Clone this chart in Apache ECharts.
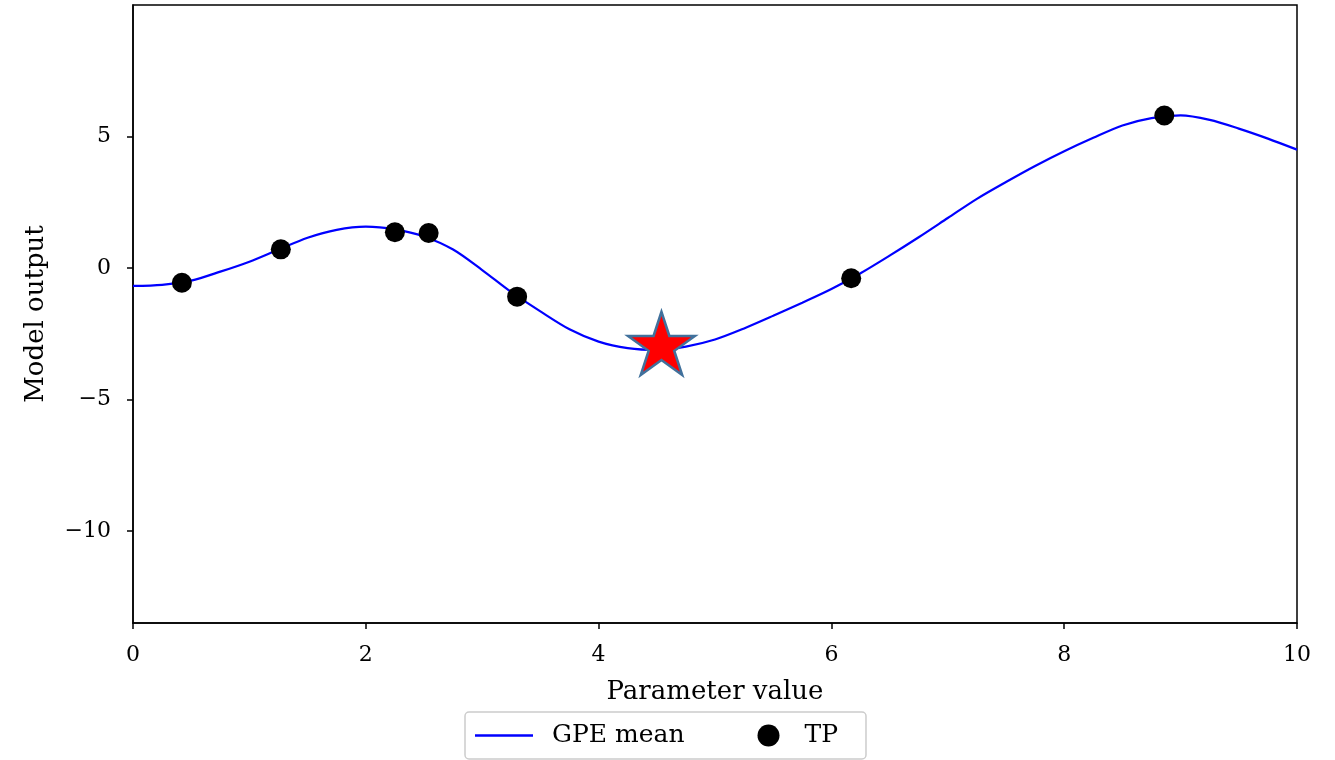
<!DOCTYPE html>
<html>
<head>
<meta charset="utf-8">
<script src="https://cdn.jsdelivr.net/npm/echarts@6/dist/echarts.min.js"></script>
<style>
html, body { margin: 0; padding: 0; background: #fff; }
#chart { width: 1335px; height: 760px; }
</style>
</head>
<body>
<div id="chart"></div>
<script>
// GPE mean curve
var meanX = [0, 0.25, 0.5, 0.75, 1, 1.25, 1.5, 1.75, 2, 2.25, 2.5, 2.75, 3, 3.25, 3.5, 3.75, 4, 4.25, 4.5, 4.75,
	5, 5.25, 5.5, 5.75, 6, 6.25, 6.5, 6.75, 7, 7.25, 7.5, 7.75, 8, 8.25, 8.5, 8.75, 9, 9.25, 9.5, 9.75, 10];
var meanY = [-0.68, -0.64, -0.48, -0.14, 0.24, 0.7, 1.15, 1.45, 1.57, 1.47, 1.2, 0.7, -0.08, -0.92, -1.65, -2.33, -2.8, -3.05, -3.12, -2.99,
	-2.72, -2.3, -1.82, -1.32, -0.8, -0.2, 0.47, 1.17, 1.9, 2.63, 3.27, 3.88, 4.44, 4.95, 5.42, 5.7, 5.8, 5.63, 5.3, 4.92, 4.5];
// training points
var tpX = [0.42, 1.27, 2.25, 2.54, 3.3, 6.17, 8.86];
var tpY = [-0.56, 0.71, 1.36, 1.33, -1.09, -0.39, 5.8];
// highlighted optimum
var starX = [4.54];
var starY = [-2.87];
var xTicks = [0, 2, 4, 6, 8, 10];
var yTicks = [-10, -5, 0, 5];

var font = 'DejaVu Serif';
var starPath = 'path://M50,0 L61.2,34.5 L97.6,34.5 L68.2,55.9 L79.4,90.5 L50,69.1 L20.6,90.5 L31.8,55.9 L2.4,34.5 L38.8,34.5 Z';

function zip(a, b) {
	var out = [];
	for (var i = 0; i < a.length; i++) out.push([a[i], b[i]]);
	return out;
}

$chart = echarts.init(document.getElementById('chart'));
$chart.setOption({
	animation: false,
	textStyle: { fontFamily: font, color: '#000' },
	grid: {
		left: 133, right: 38, top: 5, bottom: 137,
		show: true, borderColor: '#000', borderWidth: 1.5
	},
	legend: {
		left: 465, top: 712,
		padding: [11, 28, 11, 10],
		itemWidth: 58, itemHeight: 22, itemGap: 73,
		borderColor: '#ccc', borderWidth: 1.5, borderRadius: 4,
		textStyle: { fontFamily: font, fontSize: 25, color: '#000' },
		data: [
			{ name: 'GPE mean', icon: 'path://M0,0H60V2.4H0Z', textStyle: { padding: [0, 0, 0, 14] } },
			{ name: 'TP', icon: 'circle', textStyle: { padding: [0, 0, 0, 2] } }
		]
	},
	xAxis: {
		type: 'value', min: 0, max: 10, interval: 2,
		name: 'Parameter value', nameLocation: 'middle', nameGap: 56,
		nameTextStyle: { fontFamily: font, fontSize: 26, color: '#000' },
		axisLine: { onZero: false, lineStyle: { color: '#000', width: 1.5 } },
		axisTick: { length: 6, lineStyle: { color: '#000', width: 1.5 }, customValues: xTicks },
		axisLabel: { fontFamily: font, fontSize: 22, color: '#000', margin: 21, customValues: xTicks },
		splitLine: { show: false }
	},
	yAxis: {
		type: 'value', min: -13.5, max: 10,
		name: 'Model output', nameLocation: 'middle', nameGap: 84,
		nameTextStyle: { fontFamily: font, fontSize: 26, color: '#000' },
		axisLine: { show: true, onZero: false, lineStyle: { color: '#000', width: 1.5 } },
		axisTick: { show: true, length: 6, lineStyle: { color: '#000', width: 1.5 }, customValues: yTicks },
		axisLabel: {
			fontFamily: font, fontSize: 22, color: '#000', margin: 22, customValues: yTicks,
			formatter: function (v) { return v < 0 ? '\u2212' + Math.abs(v) : '' + v; }
		},
		splitLine: { show: false }
	},
	series: [{
		name: 'GPE mean',
		type: 'line',
		data: zip(meanX, meanY),
		smooth: 0.3,
		symbol: 'none',
		lineStyle: { color: '#0000ff', width: 2.2 },
		itemStyle: { color: '#0000ff' },
		z: 2
	}, {
		name: 'TP',
		type: 'scatter',
		data: zip(tpX, tpY),
		symbolSize: 20,
		itemStyle: { color: '#000', opacity: 1 },
		z: 3
	}, {
		name: 'star',
		type: 'scatter',
		data: zip(starX, starY),
		symbol: starPath,
		symbolSize: [67, 63],
		itemStyle: { color: '#ff0000', borderColor: '#41719c', borderWidth: 2.5, opacity: 1 },
		z: 4
	}]
});
</script>
</body>
</html>
